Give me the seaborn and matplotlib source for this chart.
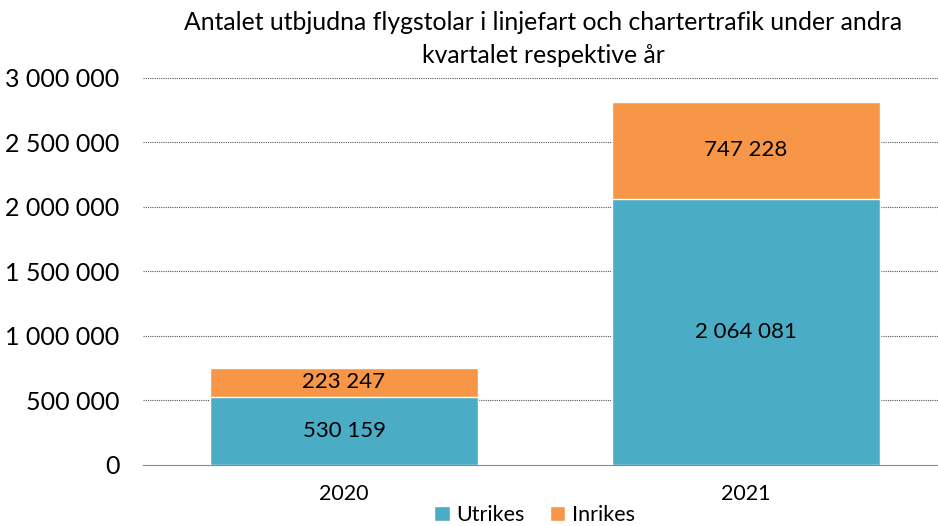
import matplotlib
matplotlib.use("Agg")
import matplotlib.pyplot as plt
import pandas as pd
import seaborn as sns

years = ["2020", "2021"]
utrikes = [530159, 2064081]
inrikes = [223247, 747228]
yticks = [0, 500000, 1000000, 1500000, 2000000, 2500000, 3000000]

BLUE = "#4BACC6"
ORANGE = "#F79646"


def fmt(v):
    return f"{v:,}".replace(",", " ")


sns.set_style("white")
plt.rcParams["font.family"] = ["Lato", "DejaVu Sans"]
plt.rcParams["text.color"] = "black"
plt.rcParams["xtick.color"] = "black"
plt.rcParams["ytick.color"] = "black"

df = pd.DataFrame({"year": years, "Utrikes": utrikes, "Inrikes": inrikes})
df["total"] = df["Utrikes"] + df["Inrikes"]

fig, ax = plt.subplots(figsize=(9.38, 5.26), dpi=100)
fig.subplots_adjust(left=0.1525, right=1.0096, top=0.852, bottom=0.116)

for y in yticks[1:]:
    ax.axhline(y, color="#555555", lw=0.8, ls=(0, (1, 1)), zorder=0)

sns.barplot(data=df, x="year", y="total", color=ORANGE, width=0.667,
            saturation=1, ax=ax, zorder=2, label="Inrikes")
sns.barplot(data=df, x="year", y="Utrikes", color=BLUE, width=0.667,
            saturation=1, ax=ax, zorder=3, label="Utrikes")

for i in range(len(years)):
    ax.text(i, utrikes[i] / 2, fmt(utrikes[i]), ha="center", va="center",
            fontsize=16, zorder=5)
    ax.text(i, utrikes[i] + inrikes[i] / 2, fmt(inrikes[i]), ha="center",
            va="center", fontsize=16, zorder=5)

ax.set_ylim(0, 3000000)
ax.set_xlim(-0.5, 1.5)
ax.set_yticks(yticks)
ax.set_yticklabels([fmt(v) for v in yticks], fontsize=18)
ax.tick_params(axis="x", labelsize=15.5, pad=14, length=0)
ax.tick_params(axis="y", pad=17, length=0)
ax.set_xlabel("")
ax.set_ylabel("")
for s in ["top", "right", "left"]:
    ax.spines[s].set_visible(False)
ax.spines["bottom"].set_color("#888888")
ax.spines["bottom"].set_linestyle((0, (1, 1)))

fig.text(0.579, 0.926, "Antalet utbjudna flygstolar i linjefart och chartertrafik under andra\n"
         "kvartalet respektive år", fontsize=17.8, ha="center", va="center",
         linespacing=1.5)

handles, labels = ax.get_legend_handles_labels()
order = [labels.index("Utrikes"), labels.index("Inrikes")]
ax.legend([handles[k] for k in order], [labels[k] for k in order],
          loc="lower center", bbox_to_anchor=(0.487, -0.205), ncol=2,
          frameon=False, fontsize=15.5, handlelength=0.7, handleheight=0.7,
          handletextpad=0.3, columnspacing=1.2)

fig.savefig("out.png")
